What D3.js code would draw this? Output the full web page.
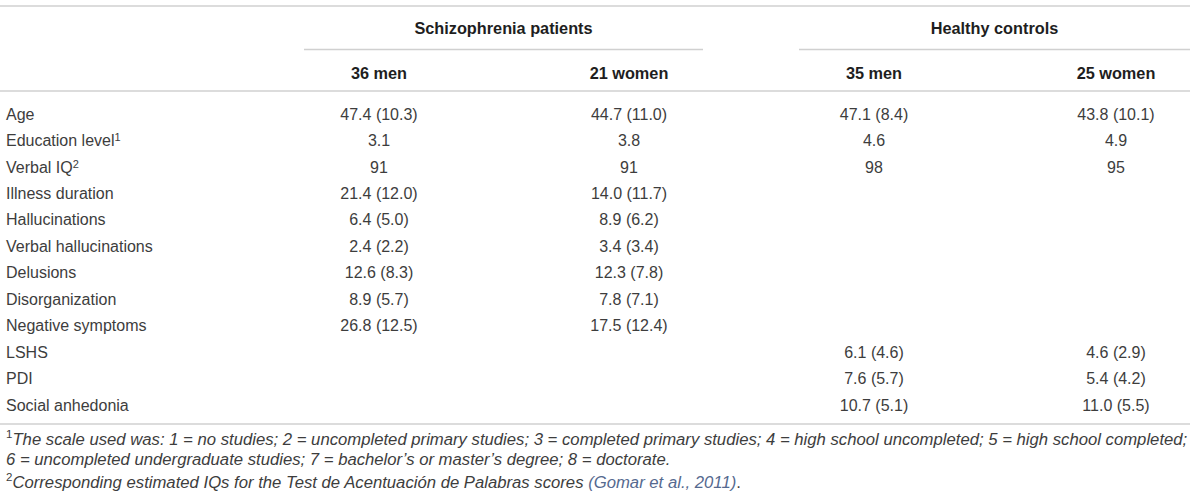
<!DOCTYPE html>
<html>
<head>
<meta charset="utf-8">
<script src="https://cdn.jsdelivr.net/npm/d3@7"></script>
<style>
  body { margin: 0; background: #fff; }
  svg { display: block; }
</style>
</head>
<body>
<div id="table"></div>
<script>
// ---- data ----
const groups = ["Schizophrenia patients", "Healthy controls"];
const columns = ["36 men", "21 women", "35 men", "25 women"];
const rowLabels = ["Age", "Education level", "Verbal IQ", "Illness duration", "Hallucinations",
  "Verbal hallucinations", "Delusions", "Disorganization", "Negative symptoms", "LSHS", "PDI", "Social anhedonia"];
const rowNotes = ["", "1", "2", "", "", "", "", "", "", "", "", ""];
const rowDecimals = [1, 1, 0, 1, 1, 1, 1, 1, 1, 1, 1, 1];

const schizMenMean = [47.4, 3.1, 91, 21.4, 6.4, 2.4, 12.6, 8.9, 26.8, null, null, null];
const schizMenSD = [10.3, null, null, 12.0, 5.0, 2.2, 8.3, 5.7, 12.5, null, null, null];
const schizWomenMean = [44.7, 3.8, 91, 14.0, 8.9, 3.4, 12.3, 7.8, 17.5, null, null, null];
const schizWomenSD = [11.0, null, null, 11.7, 6.2, 3.4, 7.8, 7.1, 12.4, null, null, null];
const ctrlMenMean = [47.1, 4.6, 98, null, null, null, null, null, null, 6.1, 7.6, 10.7];
const ctrlMenSD = [8.4, null, null, null, null, null, null, null, null, 4.6, 5.7, 5.1];
const ctrlWomenMean = [43.8, 4.9, 95, null, null, null, null, null, null, 4.6, 5.4, 11.0];
const ctrlWomenSD = [10.1, null, null, null, null, null, null, null, null, 2.9, 4.2, 5.5];

const footnotes = [
  { mark: "1", text: "The scale used was: 1 = no studies; 2 = uncompleted primary studies; 3 = completed primary studies; 4 = high school uncompleted; 5 = high school completed;" },
  { mark: "", text: "6 = uncompleted undergraduate studies; 7 = bachelor\u2019s or master\u2019s degree; 8 = doctorate." },
  { mark: "2", text: "Corresponding estimated IQs for the Test de Acentuaci\u00f3n de Palabras scores ", link: "(Gomar et al., 2011)", tail: "." }
];

// ---- layout ----
const W = 1200, H = 501;
const tableRight = 1190;
const font = "'Liberation Sans', Arial, Helvetica, sans-serif";
const ruleColor = "#d0d0d0";
const textColor = "#3d3d3d";
const headColor = "#1e1e1e";

const series = [
  { mean: schizMenMean, sd: schizMenSD },
  { mean: schizWomenMean, sd: schizWomenSD },
  { mean: ctrlMenMean, sd: ctrlMenSD },
  { mean: ctrlWomenMean, sd: ctrlWomenSD }
];

const x = d3.scaleOrdinal().domain(columns.map((c, i) => i)).range([379, 629, 874, 1116]);
const groupSpan = d3.scaleOrdinal().domain(groups).range([[304, 703], [799, tableRight]]);
const y = d3.scalePoint().domain(rowLabels).range([114, 405]);

const svg = d3.select("#table").append("svg")
  .attr("width", W)
  .attr("height", H)
  .style("font-family", font);

function fmt(v, d) {
  return v == null ? "" : v.toFixed(d);
}

// rules
svg.append("g").selectAll("line")
  .data([6, 91, 424])
  .enter()
  .append("line")
  .attr("x1", 0)
  .attr("x2", tableRight)
  .attr("y1", d => d)
  .attr("y2", d => d)
  .attr("stroke", ruleColor)
  .attr("stroke-width", 1.5);

// group headers
const gh = svg.append("g").selectAll("g")
  .data(groups)
  .enter()
  .append("g");

gh.append("text")
  .attr("x", d => (groupSpan(d)[0] + groupSpan(d)[1]) / 2)
  .attr("y", 28)
  .attr("dy", "0.35em")
  .attr("text-anchor", "middle")
  .attr("font-size", 16.3)
  .attr("font-weight", "bold")
  .attr("fill", headColor)
  .text(d => d);

gh.append("line")
  .attr("x1", d => groupSpan(d)[0])
  .attr("x2", d => groupSpan(d)[1])
  .attr("y1", 49.5)
  .attr("y2", 49.5)
  .attr("stroke", ruleColor)
  .attr("stroke-width", 1.5);

// column headers
svg.append("g").selectAll("text")
  .data(columns)
  .enter()
  .append("text")
  .attr("x", (d, i) => x(i))
  .attr("y", 73)
  .attr("dy", "0.35em")
  .attr("text-anchor", "middle")
  .attr("font-size", 16.3)
  .attr("font-weight", "bold")
  .attr("fill", headColor)
  .text(d => d);

// row labels
const labels = svg.append("g").selectAll("text")
  .data(rowLabels)
  .enter()
  .append("text")
  .attr("x", 6)
  .attr("y", d => y(d))
  .attr("dy", "0.35em")
  .attr("font-size", 16)
  .attr("fill", textColor);

labels.append("tspan").text(d => d);
labels.append("tspan")
  .attr("dy", "-0.45em")
  .attr("font-size", 11)
  .text((d, i) => rowNotes[i]);

// cells
series.forEach((s, ci) => {
  svg.append("g").selectAll("text")
    .data(rowLabels)
    .enter()
    .append("text")
    .attr("x", x(ci))
    .attr("y", d => y(d))
    .attr("dy", "0.35em")
    .attr("text-anchor", "middle")
    .attr("font-size", 16)
    .attr("fill", textColor)
    .text((d, i) => {
      const m = fmt(s.mean[i], rowDecimals[i]);
      const sd = s.sd[i] == null ? "" : " (" + s.sd[i].toFixed(1) + ")";
      return m + sd;
    });
});

// footnotes
const fy = d3.scalePoint().domain(d3.range(footnotes.length)).range([443, 486]);
const fn = svg.append("g").selectAll("text")
  .data(footnotes)
  .enter()
  .append("text")
  .attr("x", 6)
  .attr("y", (d, i) => fy(i))
  .attr("dy", "0.35em")
  .attr("font-size", 16.7)
  .attr("fill", textColor);

fn.append("tspan")
  .attr("font-size", 11.5)
  .attr("dy", "-0.4em")
  .text(d => d.mark);
fn.append("tspan")
  .attr("dy", d => d.mark ? "0.4em" : 0)
  .attr("font-style", "italic")
  .text(d => d.text);
fn.filter(d => d.link).append("tspan")
  .attr("font-style", "italic")
  .attr("fill", "#55698f")
  .text(d => d.link);
fn.filter(d => d.tail).append("tspan")
  .text(d => d.tail);
</script>
</body>
</html>
